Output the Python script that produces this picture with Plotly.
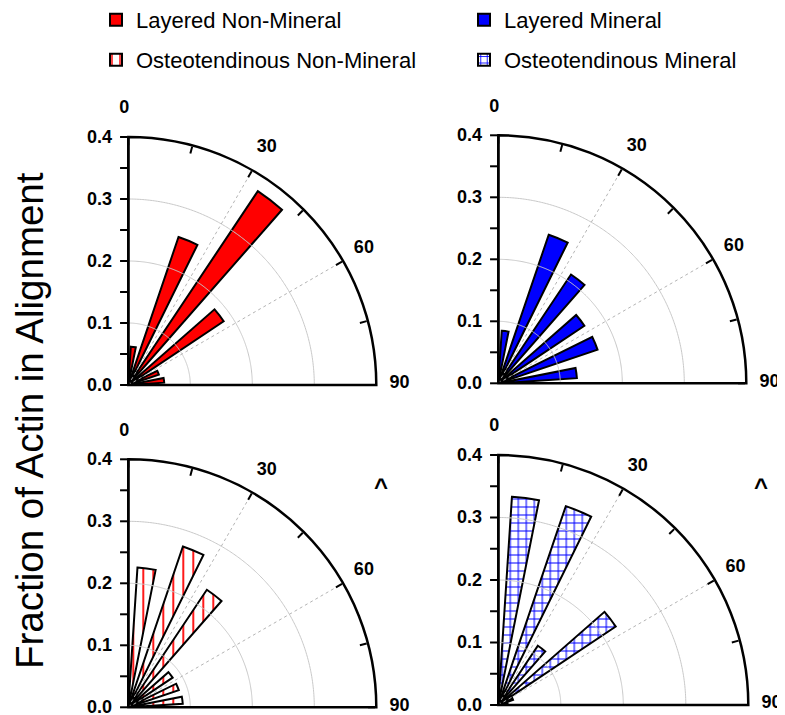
import numpy as np
import plotly.graph_objects as go

# ---------------- data ----------------
angles = [7.5, 22.5, 37.5, 52.5, 67.5, 82.5]          # bin centres (deg)
bar_width = 7.5                                        # deg
layered_non_mineral = [0.062, 0.252, 0.376, 0.185, 0.052, 0.058]
layered_mineral = [0.085, 0.253, 0.211, 0.167, 0.169, 0.127]
osteo_non_mineral = [0.226, 0.274, 0.228, 0.086, 0.086, 0.088]
osteo_mineral = [0.334, 0.336, 0.114, 0.226, 0.025, 0.015]

radial_ticks = [0.0, 0.05, 0.1, 0.15, 0.2, 0.25, 0.3, 0.35, 0.4]
radial_labels = ["0.0", "", "0.1", "", "0.2", "", "0.3", "", "0.4"]
angular_ticks = [0, 15, 30, 45, 60, 75, 90]
angular_labels = ["0", "", "30", "", "60", "", "90"]
grid_r = [0.1, 0.2, 0.3]
grid_theta = [30, 60, 90]

FONT = "Liberation Sans, Arial, sans-serif"
W, H = 785, 715
OFF = 8  # page body margin: screen position = figure position + 8


def px(x):
    return (x - OFF) / W


def py(y):
    return 1 - (y - OFF) / H


def dom(x0, y0, R, dx=0.0, dy=0.0):
    # x0, y0: screen pixel position of the origin; R: pixel radius
    x0 += dx
    y0 += dy
    return [px(x0), px(x0 + R)], [py(y0), py(y0 - R)]


panels = [
    dict(name="Layered Non-Mineral", r=layered_non_mineral, color="#ff0000", pattern=None,
         o=(128.3, 385.0, 248), leg=(96, 20)),
    dict(name="Layered Mineral", r=layered_mineral, color="#0000ff", pattern=None,
         o=(498.3, 383.3, 248), leg=(464, 20)),
    dict(name="Osteotendinous Non-Mineral", r=osteo_non_mineral, color="white",
         pattern=dict(shape="|", fgcolor="#ff0000", bgcolor="white", size=10,
                      solidity=0.18, fgopacity=1),
         o=(128.3, 707.3, 248), leg=(96, 60)),
    dict(name="Osteotendinous Mineral", r=osteo_mineral, color="white",
         pattern=dict(shape="+", fgcolor="#0000ff", bgcolor="white", size=8,
                      solidity=0.25, fgopacity=1),
         o=(498.3, 705.0, 250), leg=(464, 60)),
]
for i, p in enumerate(panels):
    p["sub"] = "polar" if i == 0 else "polar%d" % (i + 1)     # bars, axes, ticks
    p["alab"] = "polar%d" % (i + 5)                             # angular tick labels
    p["rlab"] = "polar%d" % (i + 9)                             # radial tick labels
    p["legend"] = "legend" if i == 0 else "legend%d" % (i + 1)

fig = go.Figure()

arc_theta = np.linspace(0, 90, 181)
for p in panels:
    for gr in grid_r:
        fig.add_trace(go.Scatterpolar(r=[gr] * len(arc_theta), theta=arc_theta, mode="lines",
                                      line=dict(color="#c8c8c8", width=1), subplot=p["sub"],
                                      showlegend=False, hoverinfo="skip"))
    for gt in grid_theta:
        fig.add_trace(go.Scatterpolar(r=[0, 0.4], theta=[gt, gt], mode="lines",
                                      line=dict(color="#b4b4b4", width=1, dash="dot"),
                                      subplot=p["sub"], showlegend=False, hoverinfo="skip"))

for p in panels:
    marker = dict(color=p["color"], line=dict(color="black", width=2))
    if p["pattern"] is not None:
        marker["pattern"] = p["pattern"]
    fig.add_trace(go.Barpolar(r=p["r"], theta=angles, width=[bar_width] * len(angles),
                              name=p["name"], marker=marker, subplot=p["sub"],
                              legend=p["legend"]))
    # empty traces so the label-only overlay subplots are drawn
    for s in (p["alab"], p["rlab"]):
        fig.add_trace(go.Scatterpolar(r=[], theta=[], subplot=s, showlegend=False,
                                      hoverinfo="skip"))

tickfont = dict(family=FONT, size=18, color="black", weight="bold")


def main_polar(d):
    return dict(
        domain=dict(x=d[0], y=d[1]),
        sector=[0, 90],
        bgcolor="white",
        radialaxis=dict(range=[0, 0.4], angle=90, side="counterclockwise",
                        tickvals=radial_ticks, ticks="outside", ticklen=7, tickwidth=1.5,
                        tickcolor="black", showline=True, linecolor="black", linewidth=2.5,
                        showgrid=False, showticklabels=False),
        angularaxis=dict(rotation=90, direction="clockwise",
                         tickvals=angular_ticks, ticks="inside", ticklen=7, tickwidth=1.5,
                         tickcolor="black", showline=True, linecolor="black", linewidth=2.5,
                         showgrid=False, showticklabels=False),
    )


def angular_label_polar(d):
    return dict(
        domain=dict(x=d[0], y=d[1]),
        sector=[0, 90],
        bgcolor="rgba(0,0,0,0)",
        radialaxis=dict(range=[0, 0.4], visible=False),
        angularaxis=dict(rotation=90, direction="clockwise",
                         tickvals=angular_ticks, ticktext=angular_labels,
                         ticks="outside", ticklen=13, tickcolor="rgba(0,0,0,0)",
                         showline=False, showgrid=False, tickfont=tickfont),
    )


def radial_label_polar(d):
    return dict(
        domain=dict(x=d[0], y=d[1]),
        sector=[0, 90],
        bgcolor="rgba(0,0,0,0)",
        radialaxis=dict(range=[0, 0.4], angle=90, side="counterclockwise",
                        tickvals=radial_ticks, ticktext=radial_labels, tickangle=90,
                        ticks="outside", ticklen=7, tickcolor="rgba(0,0,0,0)",
                        showline=False, showgrid=False, tickfont=tickfont),
        angularaxis=dict(rotation=90, direction="clockwise", visible=False),
    )


layout = dict(width=W, height=H, margin=dict(l=0, r=0, t=0, b=0, autoexpand=False),
              paper_bgcolor="white", font=dict(family=FONT, color="black"))

for p in panels:
    x0, y0, R = p["o"]
    layout[p["sub"]] = main_polar(dom(x0, y0, R))
    layout[p["alab"]] = angular_label_polar(dom(x0, y0, R, dx=-4, dy=-3))
    layout[p["rlab"]] = radial_label_polar(dom(x0, y0, R, dx=-2.5))
    layout[p["legend"]] = dict(x=px(p["leg"][0]), y=py(p["leg"][1]), xanchor="left",
                               yanchor="middle",
                               font=dict(family=FONT, size=22, color="black"),
                               bgcolor="rgba(0,0,0,0)", borderwidth=0)

layout["annotations"] = [
    dict(text="Fraction of Actin in Alignment", textangle=-90, x=px(29), y=py(421),
         xref="paper", yref="paper", xanchor="center", yanchor="middle", showarrow=False,
         font=dict(family=FONT, size=38.5, color="black")),
    dict(text="^", x=px(381), y=py(486), xref="paper", yref="paper",
         xanchor="center", yanchor="middle", showarrow=False,
         font=dict(family=FONT, size=24, color="black", weight="bold")),
    dict(text="^", x=px(761), y=py(486), xref="paper", yref="paper",
         xanchor="center", yanchor="middle", showarrow=False,
         font=dict(family=FONT, size=24, color="black", weight="bold")),
]

fig.update_layout(**layout)
fig.write_html("out.html")
